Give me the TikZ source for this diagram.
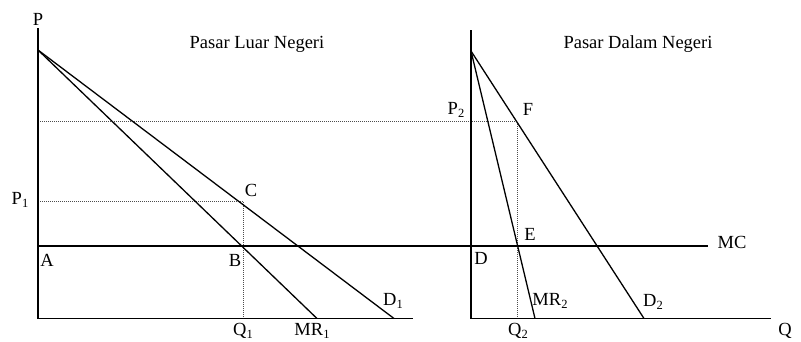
\documentclass[tikz,border=0pt]{standalone}
\usepackage{fontspec}
\setmainfont{Liberation Serif}
\newcommand{\lowsub}[1]{\raisebox{-0.3ex}{\fontsize{12.5bp}{13bp}\selectfont #1}}
\begin{document}
\begin{tikzpicture}[x=1bp,y=-1bp,
  axis/.style={line width=1.3bp,line cap=rect},
  curve/.style={line width=1.3bp},
  guide/.style={line width=0.5bp,black!70,dash pattern=on 1bp off 1bp},
  lbl/.style={inner sep=0pt,font=\fontsize{18.5bp}{20bp}\selectfont}]
\useasboundingbox (0,0) rectangle (801,341);
% left panel coordinates
\coordinate (L0) at (38,318.5);
\coordinate (Ltop) at (38,29);
\coordinate (Lend) at (412,318.5);
\coordinate (Lint) at (38,50);
\coordinate (MRoneEnd) at (317,318.5);
\coordinate (DoneEnd) at (394,318.5);
\coordinate (MCstart) at (38,246);
\coordinate (MCend) at (708,246);
\coordinate (Cpt) at (243,201);
\coordinate (Pone) at (38,201);
\coordinate (Qone) at (243,318.5);
% right panel coordinates
\coordinate (R0) at (471,318.5);
\coordinate (Rtop) at (471,31);
\coordinate (Rend) at (770,318.5);
\coordinate (Rint) at (471,51);
\coordinate (MRtwoEnd) at (535,318.5);
\coordinate (DtwoEnd) at (644,318.5);
\coordinate (Fpt) at (517,121);
\coordinate (Ptwo) at (38,121);
\coordinate (Qtwo) at (517,318.5);
% guides
\draw[guide] (Pone) -- (Cpt) -- (Qone);
\draw[guide] (Ptwo) -- (Fpt) -- (Qtwo);
% axes
\draw[axis] (Ltop) -- (L0) -- (Lend);
\draw[axis] (Rtop) -- (R0) -- (Rend);
% curves
\draw[curve] (Lint) -- (MRoneEnd);
\draw[curve] (Lint) -- (DoneEnd);
\draw[curve] (MCstart) -- (MCend);
\draw[curve] (Rint) -- (MRtwoEnd);
\draw[curve] (Rint) -- (DtwoEnd);
% labels
\node[lbl] (tP) at (38,19) {P};
\node[lbl] (t1) at (257,44) {Pasar Luar Negeri};
\node[lbl] (t2) at (638,44) {Pasar Dalam Negeri};
\node[lbl] (tP1) at (20,200) {P\lowsub{1}};
\node[lbl] (tA) at (47,260) {A};
\node[lbl] (tB) at (235,260) {B};
\node[lbl] (tC) at (251,190) {C};
\node[lbl] (tQ1) at (243,331) {Q\lowsub{1}};
\node[lbl] (tMR1) at (312,331) {MR\lowsub{1}};
\node[lbl] (tD1) at (393,301) {D\lowsub{1}};
\node[lbl] (tP2) at (456,110) {P\lowsub{2}};
\node[lbl] (tF) at (528,109) {F};
\node[lbl] (tE) at (530,234) {E};
\node[lbl] (tD) at (481,258) {D};
\node[lbl] (tMR2) at (550,301) {MR\lowsub{2}};
\node[lbl] (tD2) at (653,302) {D\lowsub{2}};
\node[lbl] (tQ2) at (518,331) {Q\lowsub{2}};
\node[lbl] (tMC) at (732,242) {MC};
\node[lbl] (tQ) at (785,331) {Q};
\end{tikzpicture}
\end{document}
